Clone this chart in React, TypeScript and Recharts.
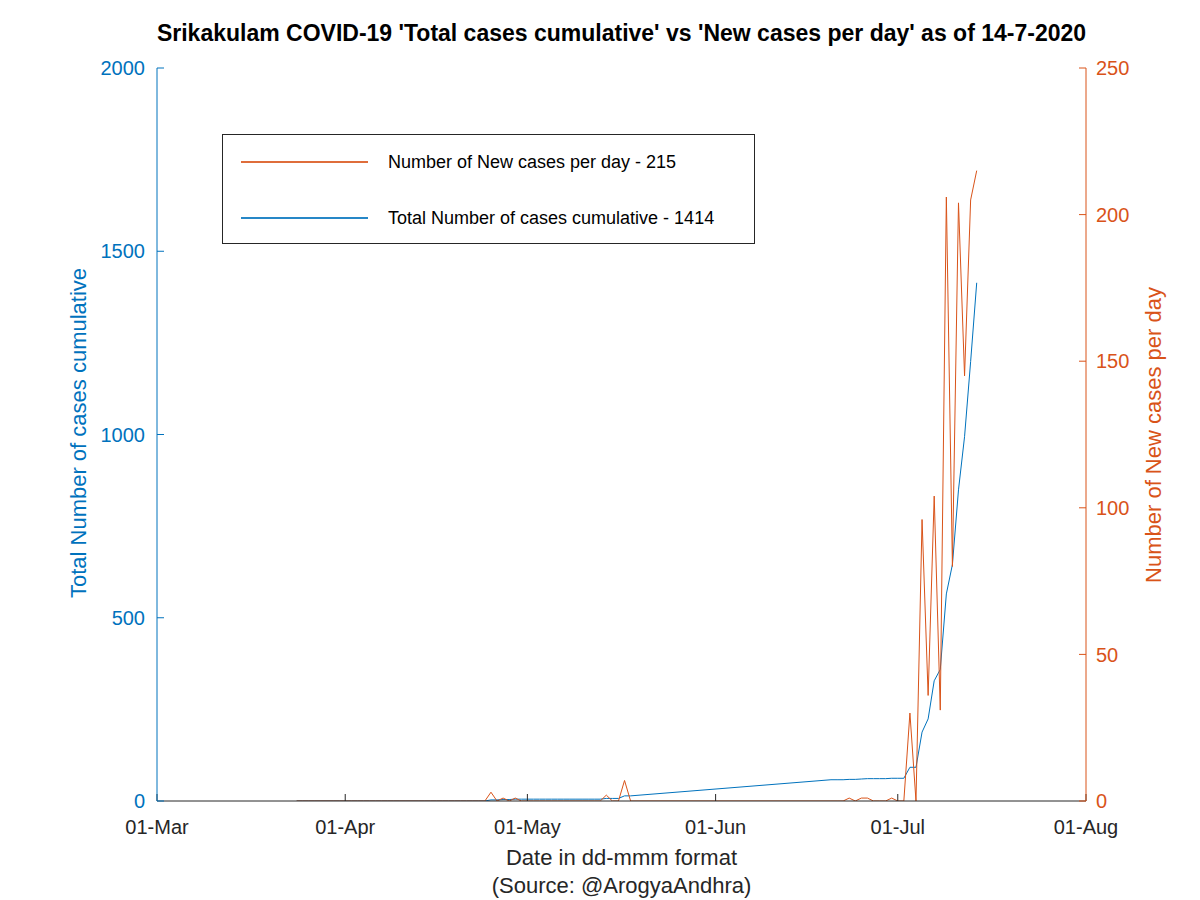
import React from 'react';
import { LineChart, Line, XAxis, YAxis, Legend } from 'recharts';

const dates = [
  '24-Mar', '25-Mar', '26-Mar', '27-Mar', '28-Mar', '29-Mar', '30-Mar', '31-Mar',
  '01-Apr', '02-Apr', '03-Apr', '04-Apr', '05-Apr', '06-Apr', '07-Apr', '08-Apr', '09-Apr', '10-Apr',
  '11-Apr', '12-Apr', '13-Apr', '14-Apr', '15-Apr', '16-Apr', '17-Apr', '18-Apr', '19-Apr', '20-Apr',
  '21-Apr', '22-Apr', '23-Apr', '24-Apr', '25-Apr', '26-Apr', '27-Apr', '28-Apr', '29-Apr', '30-Apr',
  '01-May', '02-May', '03-May', '04-May', '05-May', '06-May', '07-May', '08-May', '09-May', '10-May',
  '11-May', '12-May', '13-May', '14-May', '15-May', '16-May', '17-May', '18-May',
  '20-Jun', '21-Jun', '22-Jun', '23-Jun', '24-Jun', '25-Jun', '26-Jun', '27-Jun', '28-Jun', '29-Jun', '30-Jun',
  '01-Jul', '02-Jul', '03-Jul', '04-Jul', '05-Jul', '06-Jul', '07-Jul', '08-Jul', '09-Jul', '10-Jul',
  '11-Jul', '12-Jul', '13-Jul', '14-Jul',
];

const newCases = [
  0, 0, 0, 0, 0, 0, 0, 0,
  0, 0, 0, 0, 0, 0, 0, 0, 0, 0,
  0, 0, 0, 0, 0, 0, 0, 0, 0, 0,
  0, 0, 0, 0, 3, 0, 1, 0, 1, 0,
  0, 0, 0, 0, 0, 0, 0, 0, 0, 0,
  0, 0, 0, 2, 0, 0, 7, 0,
  0, 0, 0, 1, 0, 1, 1, 0, 0, 0, 1,
  0, 0, 30, 0, 96, 36, 104, 31, 206, 80,
  204, 145, 205, 215,
];

const totalCases = [
  0, 0, 0, 0, 0, 0, 0, 0,
  0, 0, 0, 0, 0, 0, 0, 0, 0, 0,
  0, 0, 0, 0, 0, 0, 0, 0, 0, 0,
  0, 0, 0, 0, 3, 3, 4, 4, 5, 5,
  5, 5, 5, 5, 5, 5, 5, 5, 5, 5,
  5, 5, 5, 7, 7, 7, 14, 14,
  58, 58, 58, 59, 59, 60, 61, 61, 61, 61, 62,
  62, 62, 92, 92, 188, 224, 328, 359, 565, 645,
  849, 994, 1199, 1414,
];

const xTickDays = [0, 31, 61, 92, 122, 153];
const xTickLabels = ['01-Mar', '01-Apr', '01-May', '01-Jun', '01-Jul', '01-Aug'];
const leftTicks = [0, 500, 1000, 1500, 2000];
const rightTicks = [0, 50, 100, 150, 200, 250];

const BLUE = '#0072BD';
const ORANGE = '#D95319';
const DARK = '#262626';
const FONT = '"Liberation Sans", Arial, Helvetica, sans-serif';

const monthIndex: Record<string, number> = { Mar: 2, Apr: 3, May: 4, Jun: 5, Jul: 6, Aug: 7 };
function dayIndex(s: string): number {
  const [d, m] = s.split('-');
  return Math.round((Date.UTC(2020, monthIndex[m], Number(d)) - Date.UTC(2020, 2, 1)) / 86400000);
}

const data = dates.map((s, i) => ({ day: dayIndex(s), total: totalCases[i], fresh: newCases[i] }));

const newName = `Number of New cases per day - ${newCases[newCases.length - 1]}`;
const totalName = `Total Number of cases cumulative - ${totalCases[totalCases.length - 1]}`;

const LegendRow = ({ top, color, label }: { top: number; color: string; label: string }) => (
  <div style={{ position: 'absolute', left: 0, top, height: 24, width: 531 }}>
    <div style={{ position: 'absolute', left: 18, top: 11, width: 127, height: 2, background: color, opacity: 0.85 }} />
    <span style={{ position: 'absolute', left: 165, top: 0, lineHeight: '24px', whiteSpace: 'nowrap' }}>{label}</span>
  </div>
);

const renderLegend = () => (
  <div
    style={{
      position: 'relative',
      width: 531,
      height: 108,
      border: `1px solid ${DARK}`,
      background: '#fff',
      fontFamily: FONT,
      fontSize: 18,
      color: '#000',
    }}
  >
    <LegendRow top={15} color={ORANGE} label={newName} />
    <LegendRow top={71} color={BLUE} label={totalName} />
  </div>
);

export default function App() {
  return (
    <div style={{ position: 'absolute', left: 0, top: 0, width: 1200, height: 900, background: '#fff', fontFamily: FONT }}>
      <LineChart width={1200} height={900} data={data} margin={{ top: 68, left: 97, right: 54, bottom: 59 }}>
        <XAxis
          xAxisId="top"
          orientation="top"
          type="number"
          dataKey="day"
          domain={[0, 153]}
          ticks={xTickDays}
          interval={0}
          height={0}
          tick={false}
          tickSize={-7}
          stroke={DARK}
          allowDataOverflow
        />
        <XAxis
          type="number"
          dataKey="day"
          domain={[0, 153]}
          ticks={xTickDays}
          interval={0}
          height={40}
          tickSize={-7}
          tickMargin={26}
          stroke={DARK}
          tick={{ fill: DARK, fontSize: 20, fontFamily: FONT }}
          tickFormatter={(v: number) => xTickLabels[xTickDays.indexOf(v)] ?? ''}
          allowDataOverflow
        />
        <YAxis
          yAxisId="left"
          orientation="left"
          width={60}
          domain={[0, 2000]}
          ticks={leftTicks}
          interval={0}
          tickSize={-7}
          tickMargin={19}
          stroke={BLUE}
          tick={{ fill: BLUE, fontSize: 20, fontFamily: FONT }}
          allowDataOverflow
        />
        <YAxis
          yAxisId="right"
          orientation="right"
          width={60}
          domain={[0, 250]}
          ticks={rightTicks}
          interval={0}
          tickSize={-7}
          tickMargin={17}
          stroke={ORANGE}
          tick={{ fill: ORANGE, fontSize: 20, fontFamily: FONT }}
          allowDataOverflow
        />
        <Legend
          layout="vertical"
          align="center"
          verticalAlign="middle"
          content={renderLegend}
          wrapperStyle={{ left: 222, top: 134, width: 533, height: 110 }}
        />
        <Line
          yAxisId="left"
          dataKey="total"
          name={totalName}
          type="linear"
          stroke={BLUE}
          strokeWidth={1}
          dot={false}
          activeDot={false}
          isAnimationActive={false}
        />
        <Line
          yAxisId="right"
          dataKey="fresh"
          name={newName}
          type="linear"
          stroke={ORANGE}
          strokeWidth={1}
          dot={false}
          activeDot={false}
          isAnimationActive={false}
        />
      </LineChart>

      <div style={{ position: 'absolute', left: 0, top: 21.5, width: 1243, textAlign: 'center', fontSize: 23, lineHeight: '23px', fontWeight: 'bold', color: '#000', whiteSpace: 'nowrap' }}>
        Srikakulam COVID-19 'Total cases cumulative' vs 'New cases per day' as of 14-7-2020
      </div>
      <div style={{ position: 'absolute', left: 0, top: 847, width: 1243, textAlign: 'center', fontSize: 22, lineHeight: '22px', color: DARK, whiteSpace: 'nowrap' }}>
        Date in dd-mmm format
      </div>
      <div style={{ position: 'absolute', left: 0, top: 875, width: 1243, textAlign: 'center', fontSize: 22, lineHeight: '22px', color: DARK, whiteSpace: 'nowrap' }}>
        (Source: @ArogyaAndhra)
      </div>
      <div style={{ position: 'absolute', left: 79.4 - 250, top: 433 - 11, width: 500, height: 22, textAlign: 'center', fontSize: 22, lineHeight: '22px', color: BLUE, whiteSpace: 'nowrap', transform: 'rotate(-90deg)' }}>
        Total Number of cases cumulative
      </div>
      <div style={{ position: 'absolute', left: 1154.4 - 250, top: 435 - 11, width: 500, height: 22, textAlign: 'center', fontSize: 22, lineHeight: '22px', color: ORANGE, whiteSpace: 'nowrap', transform: 'rotate(-90deg)' }}>
        Number of New cases per day
      </div>
    </div>
  );
}
